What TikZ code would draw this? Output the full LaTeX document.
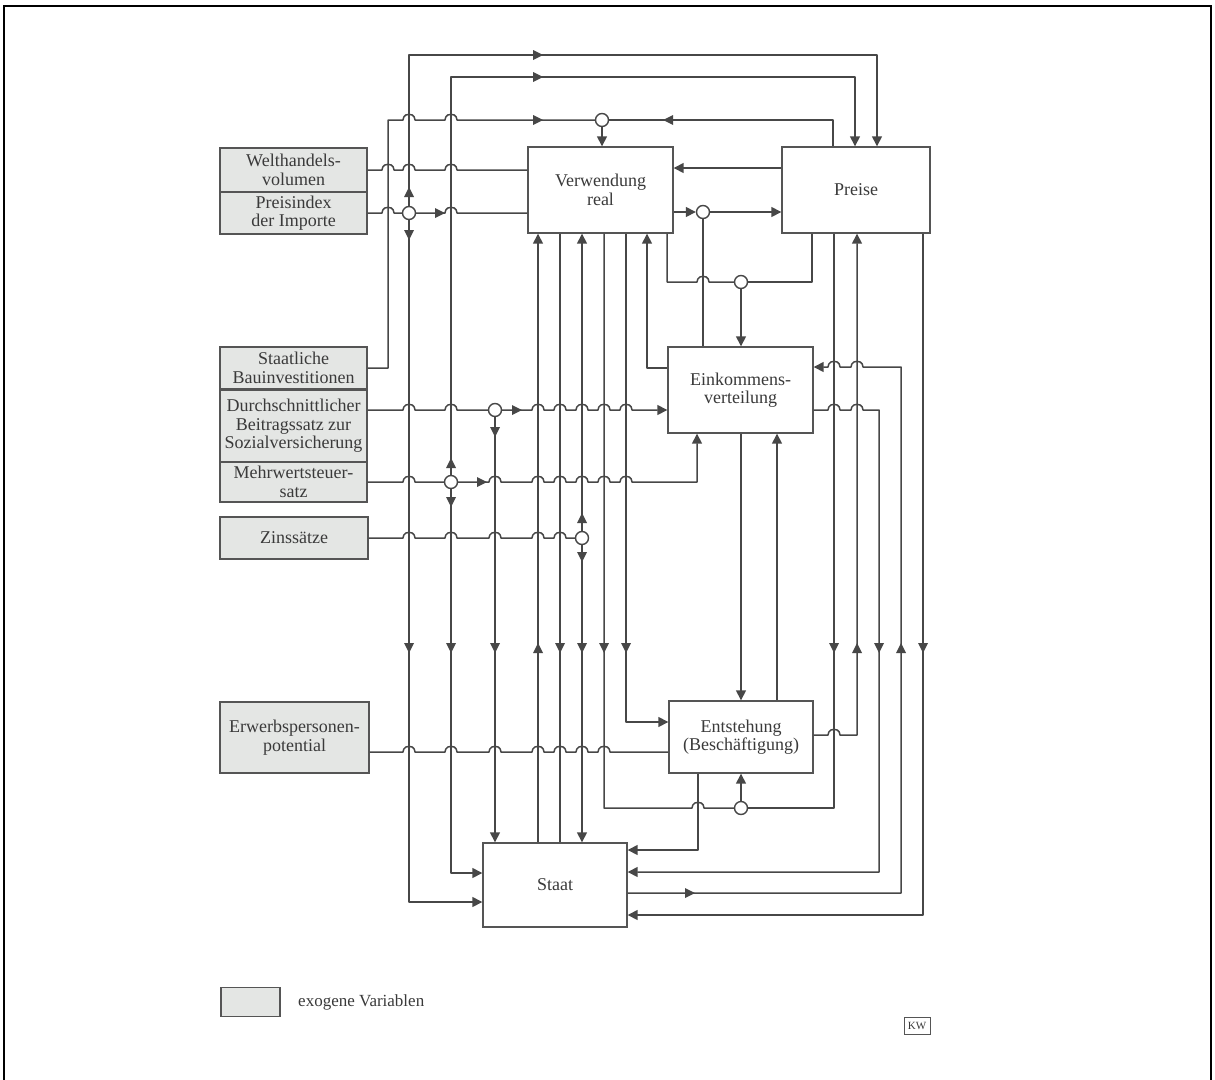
\documentclass[tikz,border=0pt]{standalone}
\usepackage{fontspec}
\setmainfont{Liberation Serif}
\usetikzlibrary{arrows.meta}
\definecolor{lc}{HTML}{474747}
\definecolor{bx}{HTML}{555555}
\definecolor{exo}{HTML}{E4E6E4}
\definecolor{txt}{HTML}{3A3A3A}
\newcommand\tipD[2]{\fill[lc] (#1,#2) -- ++(-5,-10) -- ++(10,0) -- cycle;}
\newcommand\tipU[2]{\fill[lc] (#1,#2) -- ++(-5,10) -- ++(10,0) -- cycle;}
\newcommand\tipR[2]{\fill[lc] (#1,#2) -- ++(-10,-5) -- ++(0,10) -- cycle;}
\newcommand\tipL[2]{\fill[lc] (#1,#2) -- ++(10,-5) -- ++(0,10) -- cycle;}
\tikzset{
  mainbox/.style={draw=bx, line width=1.4pt, fill=white, text=txt, align=center, inner sep=0pt,
    font=\fontsize{18}{18.5}\selectfont},
  exobox/.style={mainbox, fill=exo},
  junc/.style={circle, draw=lc, line width=1.4pt, fill=white, minimum size=13pt, inner sep=0pt},
  conn/.style={draw=lc, line width=1.5pt, line join=round},
  arr/.style={conn, -{Triangle[length=10pt,width=10pt]}},
  hop/.style args={#1,#2}{insert path={-- ({#1-6},#2) -- ({#1-5.2},{#2-3}) -- ({#1-3.2},{#2-5}) -- (#1,{#2-5.6}) -- ({#1+3.2},{#2-5}) -- ({#1+5.2},{#2-3}) -- ({#1+6},#2)}},
  hopl/.style args={#1,#2}{insert path={-- ({#1+6},#2) -- ({#1+5.2},{#2-3}) -- ({#1+3.2},{#2-5}) -- (#1,{#2-5.6}) -- ({#1-3.2},{#2-5}) -- ({#1-5.2},{#2-3}) -- ({#1-6},#2)}}
}
\begin{document}
\begin{tikzpicture}[x=1pt,y=-1pt]
\useasboundingbox (0,0) rectangle (1215,1079);
\fill[white] (0,0) rectangle (1215,1079);
\draw[black, line width=1.5pt] (4,1085) -- (4,6) -- (1211,6) -- (1211,1085);

% exogenous boxes
\node[exobox, minimum width=147pt, minimum height=44pt] (Welt) at (293.5,170) {Welthandels-\\volumen};
\node[exobox, minimum width=147pt, minimum height=42pt] (Pidx) at (293.5,213) {Preisindex\\der Importe};
\node[exobox, minimum width=147pt, minimum height=42pt] (Staatl) at (293.5,368) {Staatliche\\Bauinvestitionen};
\node[exobox, minimum width=147pt, minimum height=72pt] (Durch) at (293.5,426) {Durchschnittlicher\\Beitragssatz zur\\Sozialversicherung};
\node[exobox, minimum width=147pt, minimum height=40pt] (Mwst) at (293.5,482) {Mehrwertsteuer-\\satz};
\node[exobox, minimum width=148pt, minimum height=42pt] (Zins) at (294,538) {Zinssätze};
\node[exobox, minimum width=149pt, minimum height=71pt] (Erwerb) at (294.5,737.5) {Erwerbspersonen-\\potential};

% main boxes
\node[mainbox, minimum width=145pt, minimum height=86pt] (Verw) at (600.5,190) {Verwendung\\real};
\node[mainbox, minimum width=148pt, minimum height=86pt] (Preise) at (856,190) {Preise};
\node[mainbox, minimum width=145pt, minimum height=86pt] (Eink) at (740.5,390) {Einkommens-\\verteilung};
\node[mainbox, minimum width=144pt, minimum height=72pt] (Entst) at (741,737) {Entstehung\\(Beschäftigung)};
\node[mainbox, minimum width=144pt, minimum height=84pt] (Staat) at (555,885) {Staat};

% junctions
\node[junc] (c1) at (602,120) {};
\node[junc] (c2) at (409,213) {};
\node[junc] (c3) at (703,212) {};
\node[junc] (c4) at (741,282) {};
\node[junc] (c5) at (495,410) {};
\node[junc] (c6) at (451,482) {};
\node[junc] (c7) at (582,538) {};
\node[junc] (c8) at (741,808) {};

% Welthandelsvolumen
\draw[conn] (Welt.east) [hop={388,170}] [hop={409,170}] [hop={451,170}] -- (Verw.west |- Welt.east);
% Preisindex der Importe
\draw[conn] (Pidx.east) [hop={388,213}] -- (c2);
\draw[conn] (c2) [hop={451,213}] -- (Verw.west |- c2);
\tipR{445}{213}
% Staatliche Bauinvestitionen
\draw[conn] (Staatl.east) -| (388,120) [hop={409,120}] [hop={451,120}] -- (c1);
\tipR{543}{120}
\draw[conn] (833,0 |- Preise.north) |- (c1);
\tipL{663}{120}
\draw[arr] (c1) -- (c1 |- Verw.north);
% top lines to Preise
\draw[arr] (c2) |- (877,55) -- (877,0 |- Preise.north);
\tipU{409}{187} \tipR{543}{55}
\draw[arr] (c6) |- (855,77) -- (855,0 |- Preise.north);
\tipU{451}{458} \tipR{543}{77}
% down to Staat (left side)
\draw[arr] (c2) |- (Staat.west |- 0,902);
\tipD{409}{240} \tipD{409}{653}
\draw[arr] (c6) |- (Staat.west |- 0,873);
\tipD{451}{507} \tipD{451}{653}
% Durchschnittlicher Beitragssatz
\draw[conn] (Durch.east |- 0,410) [hop={409,410}] [hop={451,410}] -- (c5);
\draw[arr] (c5) [hop={538,410}] [hop={560,410}] [hop={582,410}] [hop={604,410}] [hop={626,410}] -- (Eink.west |- c5);
\tipR{522}{410}
\draw[arr] (c5) -- (c5 |- Staat.north);
\tipD{495}{437} \tipD{495}{653}
% Mehrwertsteuersatz
\draw[conn] (Mwst.east) [hop={409,482}] -- (c6);
\draw[arr] (c6) [hop={495,482}] [hop={538,482}] [hop={560,482}] [hop={582,482}] [hop={604,482}] [hop={626,482}] -| (697,0 |- Eink.south);
\tipR{487}{482}
% Zinssaetze
\draw[conn] (Zins.east) [hop={409,538}] [hop={451,538}] [hop={495,538}] [hop={538,538}] [hop={560,538}] -- (c7);
\draw[arr] (c7) -- (c7 |- Verw.south);
\tipU{582}{513}
\draw[arr] (c7) -- (c7 |- Staat.north);
\tipD{582}{562} \tipD{582}{653}
% Verwendung bottom lines
\draw[arr] (538,0 |- Staat.north) -- (538,0 |- Verw.south);
\tipU{538}{643}
\draw[conn] (560,0 |- Verw.south) -- (560,0 |- Staat.north);
\tipD{560}{653}
\draw[conn] (604,0 |- Verw.south) -- (604,808) [hop={698,808}] -- (c8);
\tipD{604}{653}
\draw[arr] (626,0 |- Verw.south) |- (Entst.west |- 0,722);
\tipD{626}{653}
\draw[arr] (Eink.west |- 0,368) -| (647,0 |- Verw.south);
\draw[conn] (667,0 |- Verw.south) -- (667,282) [hop={703,282}] -- (c4);
\draw[conn] (812,0 |- Preise.south) |- (c4);
\draw[arr] (c4) -- (c4 |- Eink.north);
\draw[conn] (703,0 |- Eink.north) -- (c3);
\draw[arr] (Verw.east |- c3) -- (c3);
\draw[arr] (c3) -- (Preise.west |- c3);
\draw[arr] (Preise.west |- 0,168) -- (Verw.east |- 0,168);
% Einkommen <-> Entstehung
\draw[arr] (741,0 |- Eink.south) -- (741,0 |- Entst.north);
\draw[arr] (777,0 |- Entst.north) -- (777,0 |- Eink.south);
% right side
\draw[conn] (834,0 |- Preise.south) |- (c8);
\tipD{834}{653}
\draw[arr] (Entst.east |- 0,735) [hop={834,735}] -| (857,0 |- Preise.south);
\tipU{857}{643}
\draw[arr] (Eink.east |- 0,410) [hop={834,410}] [hop={857,410}] -- (879,410) |- (Staat.east |- 0,872);
\tipD{879}{653}
\draw[arr] (Staat.east |- 0,893) -| (901,367) [hopl={857,367}] [hopl={834,367}] -- (Eink.east |- 0,367);
\tipR{695}{893} \tipU{901}{643}
\draw[arr] (923,0 |- Preise.south) |- (Staat.east |- 0,915);
\tipD{923}{653}
\draw[arr] (698,0 |- Entst.south) |- (Staat.east |- 0,850);
\draw[arr] (c8) -- (c8 |- Entst.south);
% Erwerbspersonenpotential
\draw[conn] (Erwerb.east |- 0,752) [hop={409,752}] [hop={451,752}] [hop={495,752}] [hop={538,752}] [hop={560,752}] [hop={582,752}] [hop={604,752}] -- (Entst.west |- 0,752);

% legend
\node[exobox, minimum width=59pt, minimum height=29pt] (leg) at (250.5,1002) {};
\node[anchor=west, text=txt, inner sep=0pt, font=\fontsize{17}{18}\selectfont] (legt) at (298,1002) {exogene Variablen};
\node[draw=bx, line width=1pt, text=txt, inner sep=0pt, minimum width=26pt, minimum height=17pt, font=\fontsize{11}{11}\selectfont] (kw) at (917,1026) {KW};
\end{tikzpicture}
\end{document}
